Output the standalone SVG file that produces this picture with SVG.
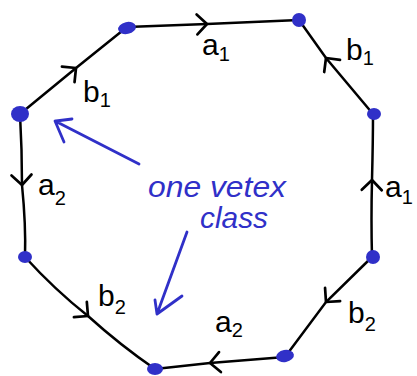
<svg xmlns="http://www.w3.org/2000/svg" width="417" height="376" viewBox="0 0 417 376">
<style>
.edge{fill:none;stroke:#000;stroke-width:2.5;stroke-linecap:round;marker-mid:url(#chev)}
.dot{fill:#3030c8}
.lbl{font-family:"Liberation Sans",Arial,sans-serif;font-size:30px;fill:#000}
.sub{font-size:20px}
.note{font-family:"Liberation Sans",Arial,sans-serif;font-style:italic;font-size:29px;fill:#3030c8}
.blue{fill:none;stroke:#3030c8;stroke-width:2.8;stroke-linecap:round;stroke-linejoin:round}
</style>
<defs>
<marker id="chev" markerUnits="userSpaceOnUse" markerWidth="30" markerHeight="30" refX="15" refY="15" orient="auto" viewBox="0 0 30 30">
<path d="M5 5 L15 15 L5 25" fill="none" stroke="#000" stroke-width="2.7" stroke-linecap="round" stroke-linejoin="round"/>
</marker>
</defs>
<g id="connectors">
<path class="edge" d="M20 114 L76 68 L127 27"/>
<path class="edge" d="M127 27 L207 24 L299 20"/>
<path class="edge" d="M373 114 L326 58 L299 20"/>
<path class="edge" d="M372 257 Q371 220 372 180 Q373 140 373 114"/>
<path class="edge" d="M372 257 L326 302 L285 357"/>
<path class="edge" d="M285 357 L210 363 L155 369"/>
<path class="edge" d="M25 257 Q55 290 88 316 Q120 345 155 369"/>
<path class="edge" d="M20 114 Q22 150 22 185 Q26 225 25 257"/>
</g>
<g id="v1"><ellipse class="dot" cx="127" cy="28" rx="9" ry="6" transform="rotate(-12 127 28)"/></g>
<g id="v2"><ellipse class="dot" cx="299" cy="20" rx="7" ry="7"/></g>
<g id="v3"><ellipse class="dot" cx="374" cy="114" rx="7" ry="6"/></g>
<g id="v4"><ellipse class="dot" cx="373" cy="257" rx="7" ry="7"/></g>
<g id="v5"><ellipse class="dot" cx="285" cy="356" rx="9" ry="6" transform="rotate(-10 285 356)"/></g>
<g id="v6"><ellipse class="dot" cx="155" cy="369" rx="8" ry="6"/></g>
<g id="v7"><ellipse class="dot" cx="25" cy="257" rx="7" ry="6"/></g>
<g id="v8"><ellipse class="dot" cx="20" cy="114" rx="9" ry="8"/></g>
<g id="labels">
<text class="lbl" x="83" y="102">b<tspan class="sub" dy="5">1</tspan></text>
<text class="lbl" x="202" y="55">a<tspan class="sub" dy="6">1</tspan></text>
<text class="lbl" x="346" y="60">b<tspan class="sub" dy="5">1</tspan></text>
<text class="lbl" x="385" y="197">a<tspan class="sub" dy="7">1</tspan></text>
<text class="lbl" x="38" y="195">a<tspan class="sub" dy="10">2</tspan></text>
<text class="lbl" x="98" y="306">b<tspan class="sub" dy="8">2</tspan></text>
<text class="lbl" x="348" y="323">b<tspan class="sub" dy="8">2</tspan></text>
<text class="lbl" x="215" y="332">a<tspan class="sub" dy="5">2</tspan></text>
</g>
<g id="note">
<text class="note" x="148" y="197" textLength="138" lengthAdjust="spacingAndGlyphs">one vetex</text>
<text class="note" x="200" y="228" textLength="68" lengthAdjust="spacingAndGlyphs">class</text>
<path class="blue" d="M139 164 L57 122 M55 121 L64 142 M56 121 L72 119"/>
<path class="blue" d="M187 232 L157 314 M157 314 L155 300 M157 314 L182 296"/>
</g>
</svg>
